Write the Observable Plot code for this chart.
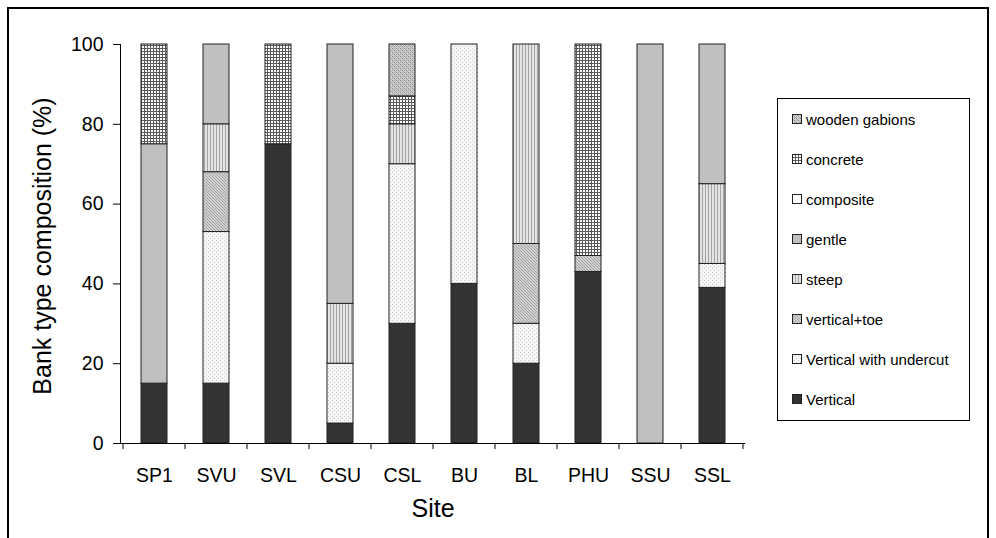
<!DOCTYPE html>
<html>
<head>
<meta charset="utf-8">
<script src="https://cdn.jsdelivr.net/npm/d3@7"></script>
<script src="https://cdn.jsdelivr.net/npm/@observablehq/plot@0.6"></script>
<style>
  body { margin: 0; background: #fff; }
  #wrap { position: relative; width: 996px; height: 538px; overflow: hidden; font-family: "Liberation Sans", Arial, sans-serif; }
  #frame { position: absolute; left: 7px; top: 7px; width: 982px; height: 560px; border: 2px solid #000; box-sizing: border-box; }
  #legend { position: absolute; left: 777px; top: 98px; width: 193px; height: 323px; border: 1px solid #000; box-sizing: border-box; background: #fff; }
  .item { position: absolute; left: 14px; height: 20px; display: flex; align-items: center; font-size: 15px; color: #000; white-space: nowrap; }
  .item svg { margin-right: 4px; }
</style>
</head>
<body>
<div id="wrap">
  <div id="chart"></div>
  <div id="frame"></div>
  <div id="legend"></div>
</div>
<script>
const sites = ["SP1", "SVU", "SVL", "CSU", "CSL", "BU", "BL", "PHU", "SSU", "SSL"];
// stacking order, bottom to top
const types = ["Vertical", "Vertical with undercut", "vertical+toe", "steep", "gentle", "composite", "concrete", "wooden gabions"];
const vertical        = [15, 15, 75,  5, 30, 40, 20, 43,   0, 39];
const verticalUndercut= [ 0, 38,  0, 15, 40, 60, 10,  0,   0,  6];
const verticalToe     = [ 0, 15,  0,  0,  0,  0, 20,  4,   0,  0];
const steep           = [ 0, 12,  0, 15, 10,  0, 50,  0,   0, 20];
const gentle          = [60, 20,  0, 65,  0,  0,  0,  0, 100, 35];
const composite       = [ 0,  0,  0,  0,  0,  0,  0,  0,   0,  0];
const concrete        = [25,  0, 25,  0,  7,  0,  0, 53,   0,  0];
const woodenGabions   = [ 0,  0,  0,  0, 13,  0,  0,  0,   0,  0];
const yTicks = [0, 20, 40, 60, 80, 100];
const legendOrder = ["wooden gabions", "concrete", "composite", "gentle", "steep", "vertical+toe", "Vertical with undercut", "Vertical"];

const series = [vertical, verticalUndercut, verticalToe, steep, gentle, composite, concrete, woodenGabions];
const data = [];
sites.forEach((s, i) => {
  types.forEach((t, k) => {
    if (series[k][i] > 0) data.push({site: s, type: t, value: series[k][i]});
  });
});

const patId = t => "pat-" + t.replace(/[^a-zA-Z]/g, "");

const boundaries = sites.map(s => ({site: s, side: -1})).concat([{site: sites[sites.length - 1], side: 1}]);

const chart = Plot.plot({
  width: 996,
  height: 538,
  marginTop: 44,
  marginLeft: 120,
  marginRight: 251,
  marginBottom: 95,
  style: {fontFamily: "Liberation Sans, Arial, sans-serif", fontSize: "19px", color: "#000", background: "transparent"},
  x: {domain: sites, paddingInner: 0.584, paddingOuter: 0.292, label: null},
  y: {domain: [0, 100], label: null},
  color: {domain: types, range: types.map(t => `url(#${patId(t)})`)},
  marks: [
    Plot.barY(data, {x: "site", y: "value", fill: "type", stroke: "#222", strokeWidth: 1}),
    Plot.ruleY([0], {stroke: "#000", strokeWidth: 1}),
    Plot.axisY({ticks: yTicks, tickSize: 7, tickPadding: 10, fontSize: 19.5, label: null}),
    Plot.axisX({tickSize: 0, tickPadding: 25, fontSize: 19.5, label: null}),
    Plot.frame({anchor: "left", stroke: "#000"}),
    Plot.text(["Bank type composition (%)"], {frameAnchor: "left", textAnchor: "middle", rotate: -90, dx: -78, dy: 2, fontSize: 25}),
    Plot.text(["Site"], {frameAnchor: "bottom", dy: 73, fontSize: 25})
  ]
});

// category boundary ticks on the x axis (positions from the band scale)
(function addBoundaryTicks() {
  const xs = chart.scale("x");
  const ys = chart.scale("y");
  const step = xs.step;
  const y0 = ys.apply(0);
  const ns = "http://www.w3.org/2000/svg";
  const g = document.createElementNS(ns, "g");
  boundaries.forEach(b => {
    const cx = xs.apply(b.site) + xs.bandwidth / 2 + b.side * step / 2;
    const l = document.createElementNS(ns, "line");
    l.setAttribute("x1", cx); l.setAttribute("x2", cx);
    l.setAttribute("y1", y0); l.setAttribute("y2", y0 + 6);
    l.setAttribute("stroke", "#000");
    g.appendChild(l);
  });
  chart.appendChild(g);
})();

// patterns
const defsHTML = `
<defs>
  <pattern id="${patId("Vertical")}" patternUnits="userSpaceOnUse" width="4" height="4">
    <rect width="4" height="4" fill="#333333"/>
  </pattern>
  <pattern id="${patId("Vertical with undercut")}" patternUnits="userSpaceOnUse" width="4" height="4">
    <rect width="4" height="4" fill="#f5f5f5"/>
    <rect x="0" y="0" width="1" height="1" fill="#cfcfcf"/>
    <rect x="2" y="2" width="1" height="1" fill="#cfcfcf"/>
  </pattern>
  <pattern id="${patId("vertical+toe")}" patternUnits="userSpaceOnUse" width="3" height="3">
    <rect width="3" height="3" fill="#d0d0d0"/>
    <rect x="0" y="0" width="1" height="1" fill="#a0a0a0"/>
    <rect x="1" y="1" width="1" height="1" fill="#a8a8a8"/>
    <rect x="2" y="2" width="1" height="1" fill="#a0a0a0"/>
  </pattern>
  <pattern id="${patId("steep")}" patternUnits="userSpaceOnUse" width="3" height="3">
    <rect width="3" height="3" fill="#e4e4e4"/>
    <rect x="0" y="0" width="1" height="3" fill="#a4a4a4"/>
  </pattern>
  <pattern id="${patId("gentle")}" patternUnits="userSpaceOnUse" width="4" height="4">
    <rect width="4" height="4" fill="#c0c0c0"/>
  </pattern>
  <pattern id="${patId("composite")}" patternUnits="userSpaceOnUse" width="4" height="4">
    <rect width="4" height="4" fill="#ffffff"/>
  </pattern>
  <pattern id="${patId("concrete")}" patternUnits="userSpaceOnUse" width="3" height="3">
    <rect width="3" height="3" fill="#ffffff"/>
    <rect x="0" y="0" width="3" height="1" fill="#5a5a5a"/>
    <rect x="0" y="0" width="1" height="3" fill="#5a5a5a"/>
  </pattern>
  <pattern id="${patId("wooden gabions")}" patternUnits="userSpaceOnUse" width="4" height="4">
    <rect width="4" height="4" fill="#cfcfcf"/>
    <rect x="0" y="0" width="1" height="1" fill="#8c8c8c"/>
    <rect x="2" y="2" width="1" height="1" fill="#8c8c8c"/>
    <rect x="1" y="1" width="1" height="1" fill="#a8a8a8"/>
    <rect x="3" y="3" width="1" height="1" fill="#a8a8a8"/>
    <rect x="2" y="0" width="1" height="1" fill="#a8a8a8"/>
    <rect x="0" y="2" width="1" height="1" fill="#a8a8a8"/>
  </pattern>
</defs>`;
const tmp = document.createElementNS("http://www.w3.org/2000/svg", "svg");
tmp.innerHTML = defsHTML;
chart.insertBefore(tmp.querySelector("defs"), chart.firstChild);

document.getElementById("chart").appendChild(chart);

// legend
const legend = document.getElementById("legend");
legendOrder.forEach((t, i) => {
  const div = document.createElement("div");
  div.className = "item";
  div.style.top = (10 + 40 * i) + "px";
  div.innerHTML = `<svg width="10" height="10"><rect x="0.5" y="0.5" width="9" height="9" fill="url(#${patId(t)})" stroke="#222" stroke-width="1"/></svg><span>${t}</span>`;
  legend.appendChild(div);
});
</script>
</body>
</html>
